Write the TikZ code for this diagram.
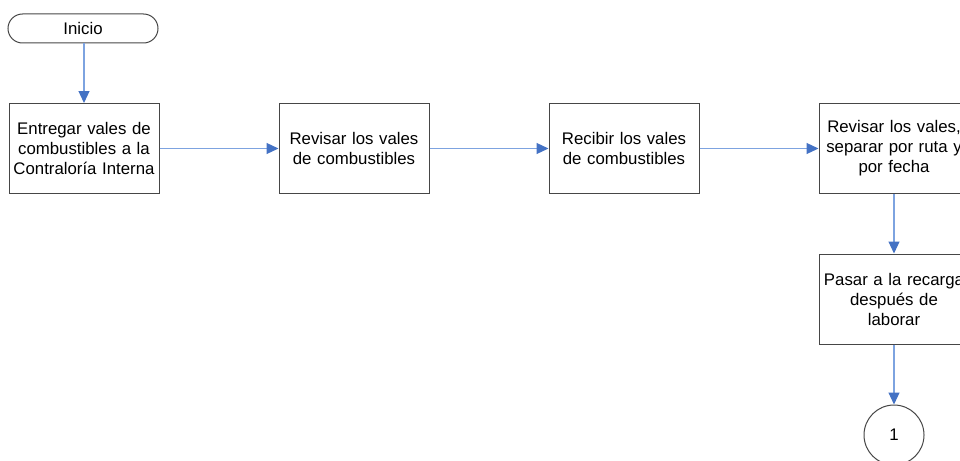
\documentclass[tikz,border=0pt]{standalone}
\usepackage{fontspec}
\setmainfont{Liberation Sans}
\usetikzlibrary{arrows.meta}
\definecolor{flowline}{RGB}{125,163,224}
\definecolor{flowtip}{RGB}{68,114,196}
\definecolor{edge}{RGB}{70,70,70}
\tikzset{
  label font/.style={font=\fontsize{16.8}{20}\selectfont},
  stepbox/.style={draw=edge, line width=1pt, minimum width=150pt, minimum height=90pt,
    align=center, text width=148pt, inner sep=0pt, label font},
  terminal/.style={draw=edge, line width=1pt, rounded corners=14.5pt, minimum width=150pt,
    minimum height=29pt, inner sep=0pt, label font},
  connector/.style={draw=edge, line width=1pt, circle, minimum size=60pt, inner sep=0pt,
    label font},
  flow/.style={draw=flowline, line width=1.2pt,
    -{Triangle[length=12pt,width=11pt,fill=flowtip,color=flowtip]}}
}
\begin{document}
\begin{tikzpicture}[x=1pt,y=-1pt]
  \useasboundingbox (0,0) rectangle (960,460);
  \node[terminal] (inicio) at (83,28.5) {Inicio};
  \node[stepbox] (entregar) at (84,148.5) {Entregar vales de\\combustibles a la\\Contraloría Interna};
  \node[stepbox] (revisar) at (354,148.5) {Revisar los vales\\de combustibles};
  \node[stepbox] (recibir) at (624,148.5) {Recibir los vales\\de combustibles};
  \node[stepbox] (separar) at (894,148.5) {Revisar los vales,\\separar por ruta y\\por fecha};
  \node[stepbox] (recarga) at (894,299) {Pasar a la recarga\\después de\\laborar};
  \node[connector] (uno) at (894,435) {1};
  \draw[flow] (inicio.south -| entregar.north) -- (entregar.north);
  \draw[flow] (entregar) -- (revisar);
  \draw[flow] (revisar) -- (recibir);
  \draw[flow] (recibir) -- (separar);
  \draw[flow] (separar) -- (recarga);
  \draw[flow] (recarga) -- (uno);
\end{tikzpicture}
\end{document}
